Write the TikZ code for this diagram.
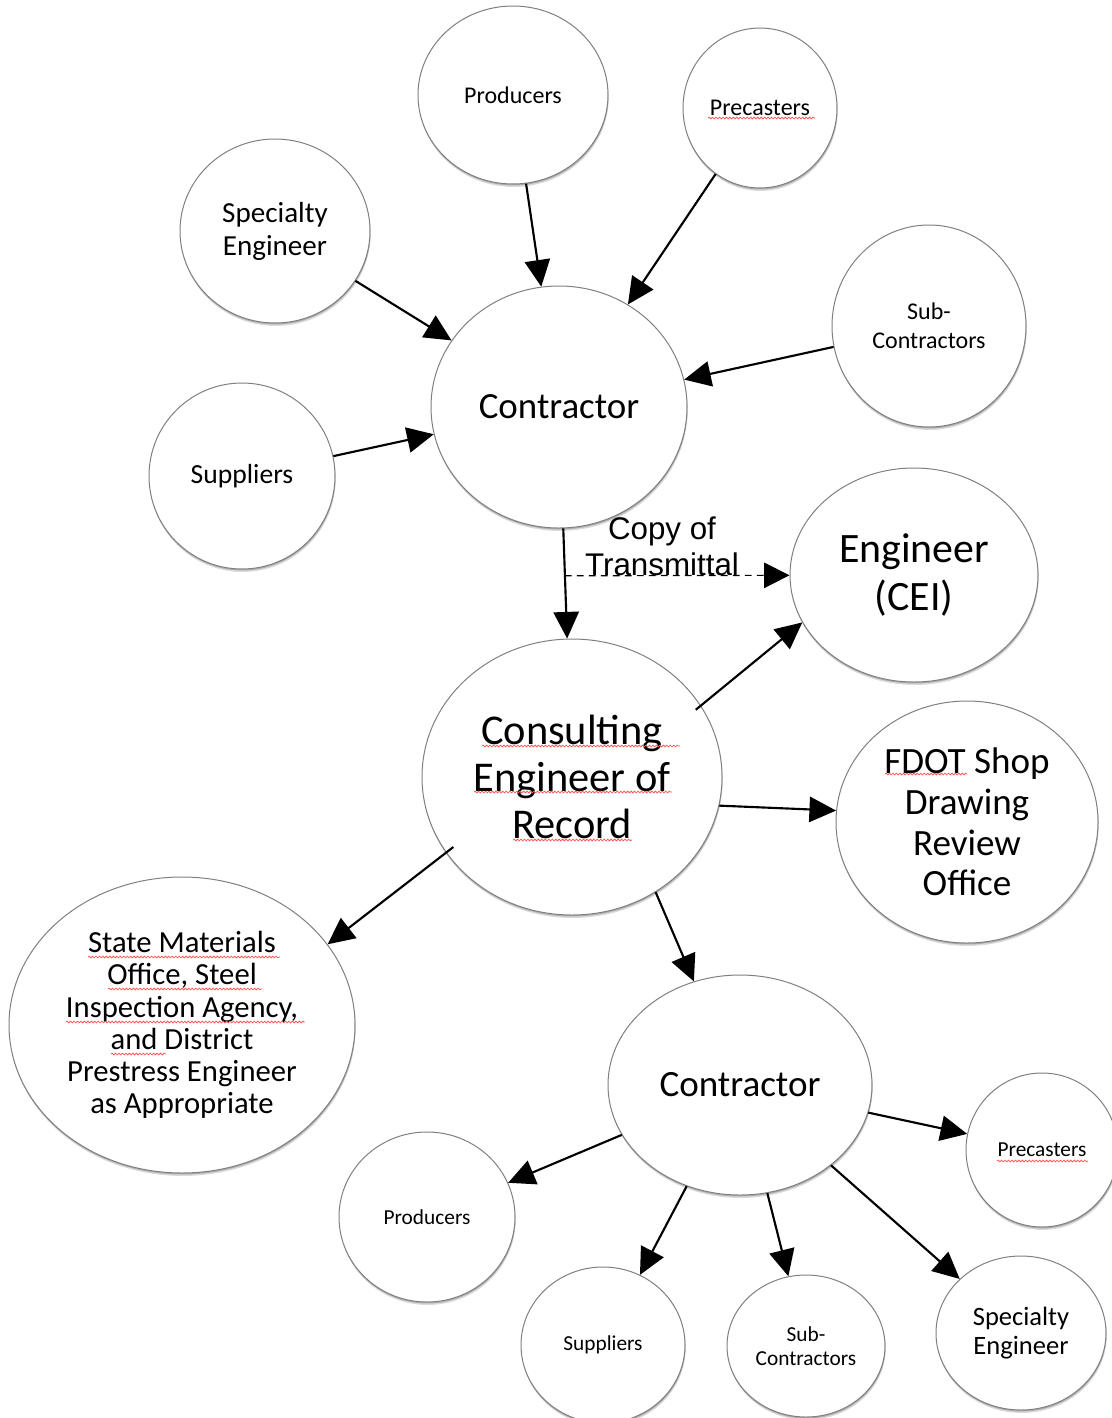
\documentclass[tikz,border=0pt]{standalone}
\usepackage{fontspec}
\setmainfont{Carlito}
\newfontfamily\arialfont{Liberation Sans}
\usetikzlibrary{shapes.geometric,arrows.meta,shadows,decorations.pathmorphing}
\newcommand\fsz[2]{\fontsize{#1}{#2}\selectfont}
\begin{document}
\begin{tikzpicture}[x=0.75pt,y=-0.75pt,
 bub/.style={ellipse, draw=black!50, line width=0.75pt, fill=white, inner sep=0pt, align=center,
   drop shadow={shadow xshift=0.5pt, shadow yshift=-2.2pt, fill=black, opacity=0.15},
   drop shadow={shadow xshift=0.3pt, shadow yshift=-1.1pt, fill=black, opacity=0.2}},
 sz/.style 2 args={minimum width=#1*1.5pt, minimum height=#2*1.5pt},
 arr/.style={line width=1.6pt, -{Triangle[length=20pt,width=19pt]}},
 darr/.style={line width=0.9pt, dash pattern=on 5pt off 4pt, -{Triangle[length=19pt,width=19pt]}},
 wavy/.style={draw=red!65!white, line width=0.6pt, decorate, decoration={snake, amplitude=0.65pt, segment length=2.6pt}}
]
\clip (0,0) rectangle (1112,1418);
\fill[white] (0,0) rectangle (1112,1418);

% nodes
\node[bub, sz={95}{89}, font=\fsz{18}{21}] (prodT) at (513,95) {Producers};
\node[bub, sz={77}{80}, font=\fsz{18}{21}] (precT) at (760,108) {Precasters};
\node[bub, sz={95}{92}, font=\fsz{21.8}{24.75}] (specT) at (275,231) {Specialty\\Engineer};
\node[bub, sz={97}{101}, font=\fsz{18}{21.75}] (subT) at (929,326) {Sub-\\Contractors};
\node[bub, sz={128}{121}, font=\fsz{27.7}{32}] (conT) at (559,407) {Contractor};
\node[bub, sz={93}{93}, font=\fsz{20.7}{24}] (supT) at (242,476) {Suppliers};
\node[bub, sz={124}{107}, font=\fsz{31.4}{36}] (cei) at (914,575) {Engineer\\(CEI)};
\node[bub, sz={150}{138}, font=\fsz{31.8}{35.25}] (ceor) at (572,777) {Consulting\\Engineer of\\Record};
\node[bub, sz={131}{121}, font=\fsz{27.8}{30.5}] (fdot) at (967,822) {FDOT Shop\\Drawing\\Review\\Office};
\node[bub, sz={173}{148}, font=\fsz{23}{24.2}] (smo) at (182,1025) {State Materials\\Office, Steel\\Inspection Agency,\\and District\\Prestress Engineer\\as Appropriate};
\node[bub, sz={132}{110}, font=\fsz{27.8}{32}] (conB) at (740,1085) {Contractor};
\node[bub, sz={76}{77}, font=\fsz{16}{19}] (precB) at (1042,1150) {Precasters};
\node[bub, sz={88}{85}, font=\fsz{16}{19}] (prodB) at (427,1217) {Producers};
\node[bub, sz={82}{78}, font=\fsz{16}{19}] (supB) at (603,1345) {Suppliers};
\node[bub, sz={79}{71}, font=\fsz{16}{18}] (subB) at (806,1346) {Sub-\\Contractors};
\node[bub, sz={85}{77}, font=\fsz{19.9}{21.75}] (specB) at (1021,1333) {Specialty\\Engineer};

% connectors
\draw[arr] (prodT) -- (conT);
\draw[arr] (precT) -- (conT);
\draw[arr] (specT) -- (conT);
\draw[arr] (subT) -- (conT);
\draw[arr] (supT) -- (conT);
\draw[arr] (conT) -- coordinate[pos=0.43] (ds) (ceor);
\draw[darr] (ds) -- (cei);
\node[font=\arialfont\fsz{23.5}{27}, align=center, inner sep=0pt] (copy) at (662,546) {Copy of\\Transmittal};
\draw[arr, shorten <=-5pt] (ceor.29.5) -- (cei.203.7);
\draw[arr] (ceor.-11.75) -- (fdot.175.6);
\draw[arr, shorten <=-7pt] (ceor.211.8) -- (smo.29.7);
\draw[arr] (ceor.-54.7) -- (conB.114.1);
\draw[arr] (conB) -- (precB);
\draw[arr] (conB) -- (prodB);
\draw[arr] (conB) -- (supB);
\draw[arr] (conB) -- (subB);
\draw[arr] (conB) -- (specB);

% spell-check underlines
\draw[wavy] (708,118) -- (815,118);
\draw[wavy] (482,746) -- (680,746);
\draw[wavy] (474,792) -- (672,792);
\draw[wavy] (513,840) -- (632,840);
\draw[wavy] (885,774) -- (967,774);
\draw[wavy] (88,957) -- (280,957);
\draw[wavy] (108,989) -- (262,989);
\draw[wavy] (66,1022) -- (305,1022);
\draw[wavy] (111,1054) -- (166,1054);
\draw[wavy] (997,1161) -- (1088,1161);
\end{tikzpicture}
\end{document}
